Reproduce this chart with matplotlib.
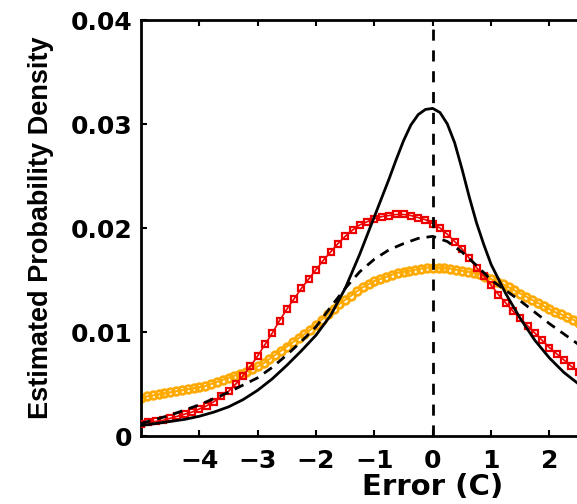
import numpy as np
import matplotlib
matplotlib.use('Agg')
import matplotlib.pyplot as plt
from matplotlib.font_manager import FontProperties

# abscisses (erreur en C) ; la courbe pleine est plus fine autour du pic
x_solid = [-5.0, -4.75, -4.5, -4.25, -4.0, -3.75, -3.5, -3.25, -3.0, -2.75,
           -2.5, -2.25, -2.0, -1.75, -1.5, -1.25, -1.0, -0.875, -0.75, -0.625,
           -0.5, -0.375, -0.25, -0.125, 0.0, 0.125, 0.25, 0.375, 0.5, 0.625,
           0.75, 0.875, 1.0, 1.25, 1.5, 1.75, 2.0, 2.25, 2.5, 2.75, 3.0]
x_dash = np.arange(-5, 3.001, 0.25)
x_red = np.arange(-5, 3.001, 0.125)
x_orange = np.arange(-5, 3.001, 0.1)

solid_black = [0.0010, 0.0012, 0.0014, 0.0016, 0.0019, 0.0023, 0.0028, 0.0035,
               0.0044, 0.0055, 0.0068, 0.0082, 0.0097, 0.0116, 0.0142, 0.0175,
               0.0211, 0.0229, 0.0247, 0.0266, 0.0284, 0.0299, 0.0309, 0.0314,
               0.0315, 0.0311, 0.0300, 0.0282, 0.0257, 0.0230, 0.0205, 0.0184,
               0.0165, 0.0137, 0.0113, 0.0092, 0.0075, 0.0061, 0.0050, 0.0041,
               0.0034]

dashed_black = [0.0012, 0.0016, 0.0020, 0.0025, 0.0030, 0.0036, 0.0042, 0.0049,
                0.0056, 0.0066, 0.0078, 0.0091, 0.0105, 0.0124, 0.0142, 0.0158,
                0.0170, 0.0179, 0.0185, 0.0190, 0.0192, 0.0187, 0.0177, 0.0164,
                0.0150, 0.0140, 0.0130, 0.0119, 0.0108, 0.0098, 0.0088, 0.0079,
                0.0070]

red_squares = [0.0012, 0.0013, 0.0014, 0.0015, 0.0017, 0.0019, 0.0021, 0.0023,
               0.0026, 0.0029, 0.0033, 0.0038, 0.0043, 0.0050, 0.0058, 0.0067,
               0.0077, 0.0088, 0.0099, 0.0111, 0.0122, 0.0132, 0.0142, 0.0151,
               0.0160, 0.0169, 0.0177, 0.0185, 0.0192, 0.0198, 0.0203, 0.0206,
               0.0209, 0.0211, 0.0212, 0.0213, 0.0213, 0.0212, 0.0210, 0.0208,
               0.0204, 0.0200, 0.0194, 0.0187, 0.0180, 0.0171, 0.0162, 0.0154,
               0.0145, 0.0136, 0.0128, 0.0120, 0.0113, 0.0106, 0.0099, 0.0092,
               0.0085, 0.0079, 0.0073, 0.0067, 0.0062, 0.0057, 0.0052, 0.0048,
               0.0044]

orange_circles = [0.0037, 0.0038, 0.0039, 0.0040, 0.0041, 0.0042, 0.0043, 0.0044,
                  0.0045, 0.0046, 0.0047, 0.0048, 0.0050, 0.0052, 0.0054, 0.0056,
                  0.0058, 0.0060, 0.0062, 0.0064, 0.0067, 0.0070, 0.0074, 0.0078,
                  0.0082, 0.0086, 0.0090, 0.0094, 0.0098, 0.0102, 0.0107, 0.0112,
                  0.0117, 0.0122, 0.0127, 0.0131, 0.0135, 0.0139, 0.0143, 0.0146,
                  0.0149, 0.0151, 0.0153, 0.0155, 0.0157, 0.0158, 0.0159, 0.0160,
                  0.0161, 0.0162, 0.0162, 0.0162, 0.0162, 0.0161, 0.0160, 0.0159,
                  0.0158, 0.0157, 0.0156, 0.0153, 0.0151, 0.0148, 0.0146, 0.0143,
                  0.0140, 0.0137, 0.0134, 0.0131, 0.0128, 0.0125, 0.0122, 0.0119,
                  0.0117, 0.0114, 0.0112, 0.0109, 0.0106, 0.0103, 0.0100, 0.0097,
                  0.0094]

xticks = [-4, -3, -2, -1, 0, 1, 2]
yticks = [0, 0.01, 0.02, 0.03, 0.04]
ytick_labels = ['0', '0.01', '0.02', '0.03', '0.04']

plt.rcParams['font.family'] = ['DejaVu Sans']
plt.rcParams['font.weight'] = 'bold'

fig = plt.figure(figsize=(5.77, 5.04), dpi=100)
# l'axe déborde à droite : la figure d'origine est rognée vers x = 2.5
ax = fig.add_axes([141 / 577, 68 / 504, 583.5 / 577, 416 / 504])

ax.plot(x_orange, orange_circles, color='#ffaa00', lw=1.5, marker='o', ms=5.5,
        mfc='none', mew=2, zorder=2)
ax.plot(x_red, red_squares, color='#ee0000', lw=1.2, marker='s', ms=4.6,
        mfc='none', mew=1.6, zorder=3)
ax.plot(x_dash, dashed_black, color='black', lw=2, ls=(0, (3.5, 2.5)), zorder=4)
ax.plot(x_solid, solid_black, color='black', lw=2, zorder=5)
ax.axvline(0, color='black', lw=2, ls=(0, (4, 3.5)), zorder=6)

ax.set_xlim(-5, 5)
ax.set_ylim(0, 0.04)
ax.set_xticks(xticks)
ax.set_xticklabels([f'\u2212{abs(t)}' if t < 0 else str(t) for t in xticks])
ax.set_yticks(yticks)
ax.set_yticklabels(ytick_labels)
ax.tick_params(direction='in', length=4, width=1.5, top=True, right=True,
               labelsize=18)
ax.tick_params(axis='x', pad=9)
ax.tick_params(axis='y', pad=6)
for s in ax.spines.values():
    s.set_linewidth(2)

ax.set_xlabel('Error (C)', fontsize=21, fontweight='bold', labelpad=0)
ylab_font = FontProperties(family='Liberation Sans', weight='bold', size=19.5)
ax.set_ylabel('Estimated Probability Density', fontproperties=ylab_font,
              labelpad=12)

fig.savefig('out.png', dpi=100)
